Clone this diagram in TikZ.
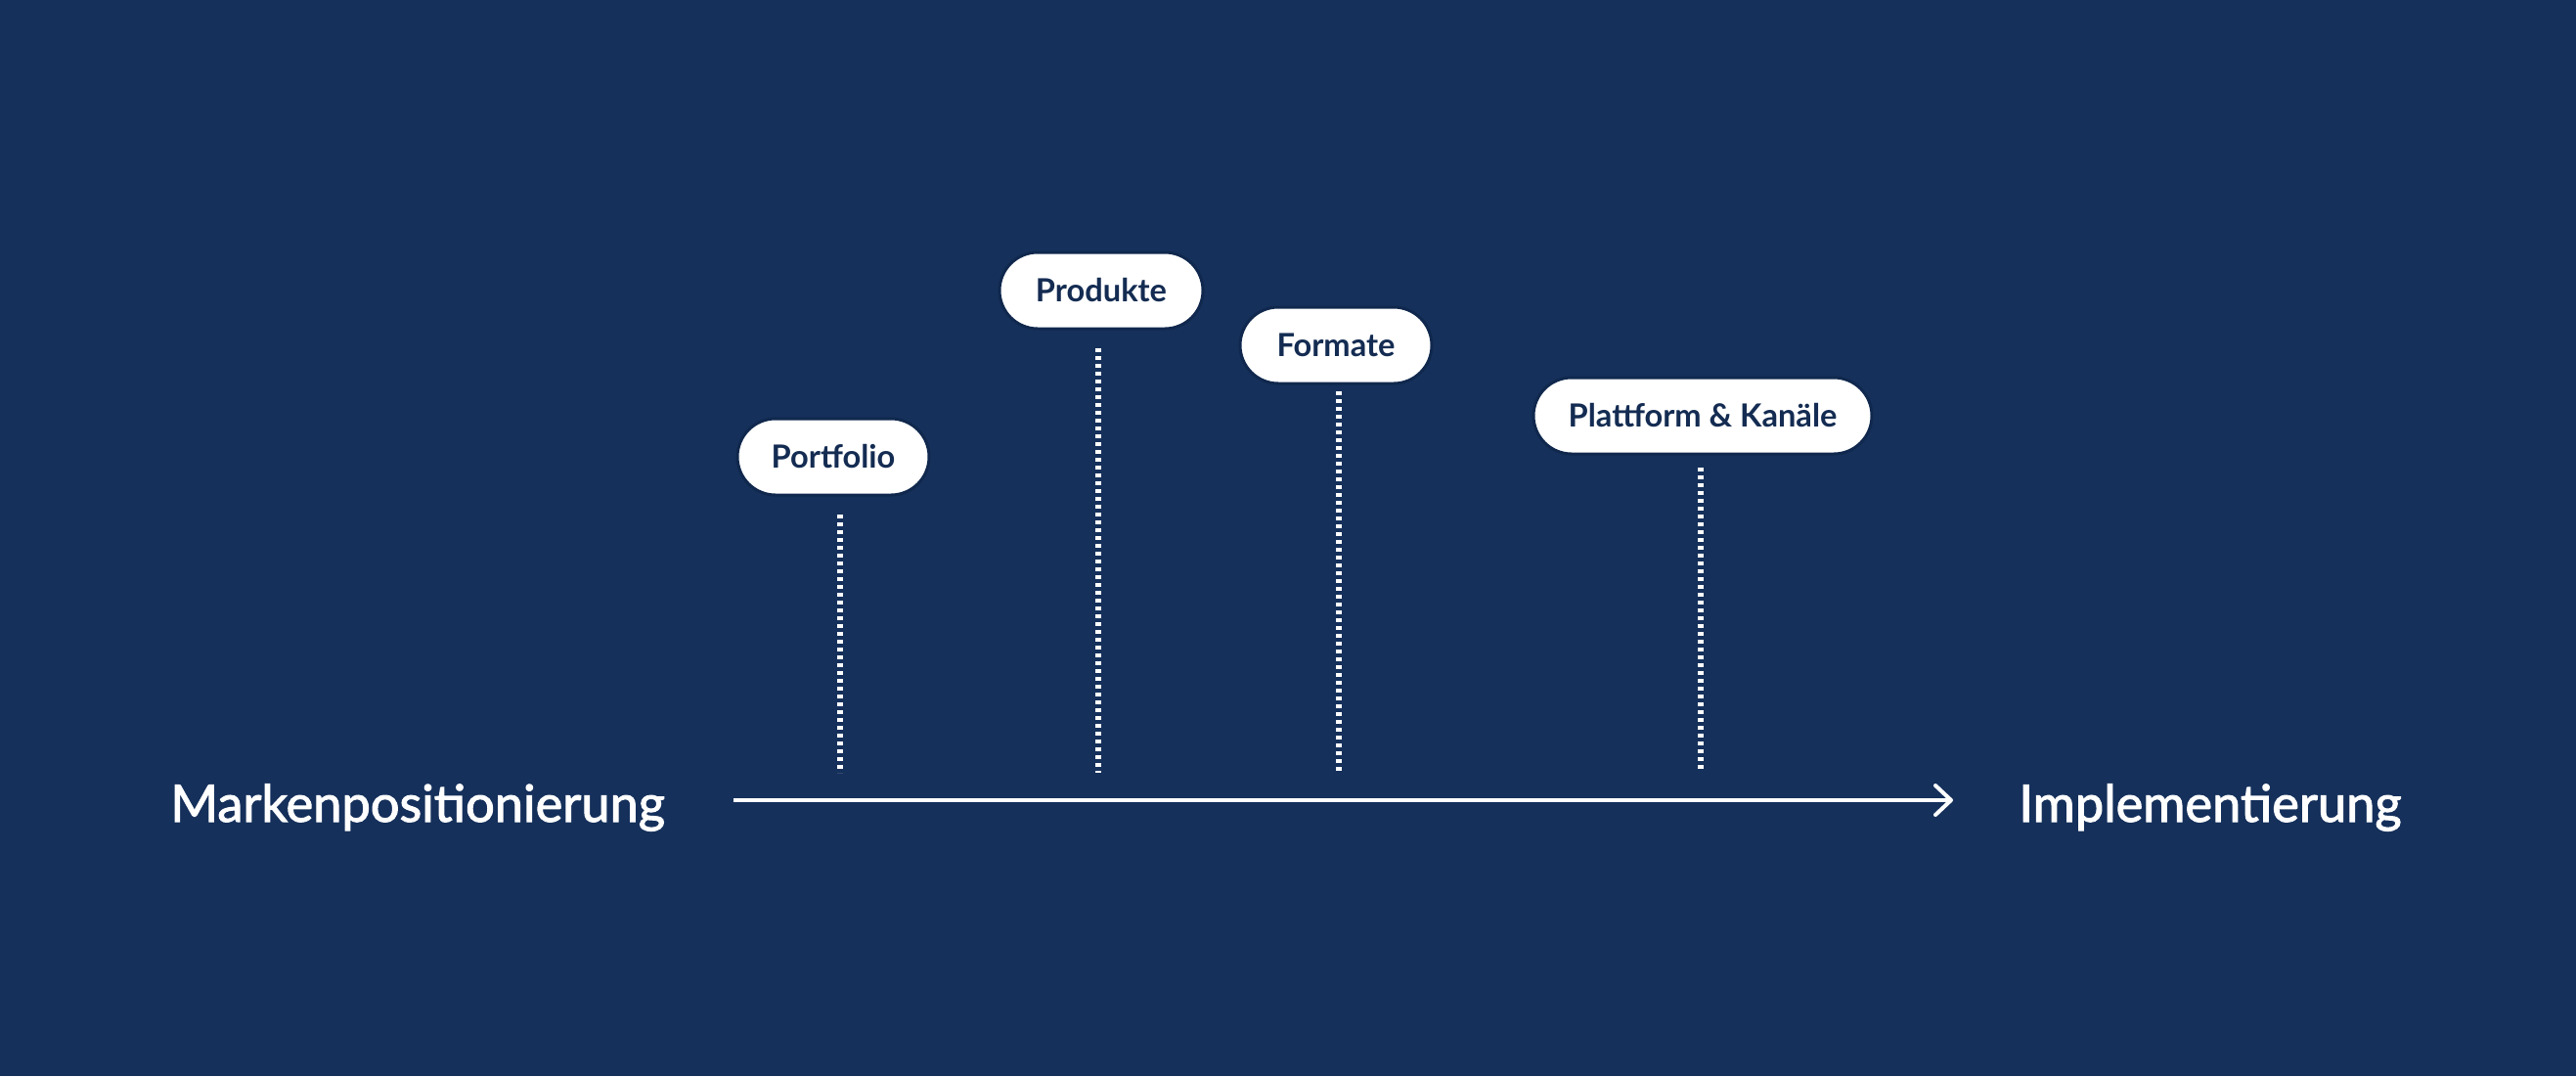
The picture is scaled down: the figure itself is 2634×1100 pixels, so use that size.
\documentclass[tikz,border=0pt]{standalone}
\usepackage{fontspec}
\setmainfont{Lato}
\newfontfamily\labelfont[FakeBold=2]{Lato}
\usetikzlibrary{arrows.meta}
\definecolor{bgnavy}{HTML}{15305B}
\definecolor{pilltext}{HTML}{142C52}
\definecolor{pillring}{HTML}{10284D}
\tikzset{
  pill/.style={draw=pillring, line width=1.5pt, fill=white, rounded corners=19.5pt,
    minimum height=39pt, inner xsep=0pt, inner ysep=0pt, text height=11.5pt, text depth=0pt,
    font=\fontsize{16.3pt}{18pt}\selectfont\bfseries, text=pilltext, anchor=center},
  axislabel/.style={inner sep=0pt, anchor=base west, text=white,
    font=\labelfont\fontsize{26.2pt}{29pt}\selectfont},
  dotline/.style={draw=white, line width=3pt, dash pattern=on 2pt off 2pt},
  timeline/.style={draw=white, line width=2pt,
    -{Straight Barb[length=8pt, width=15pt, line width=2pt, line cap=round, line join=round]}}
}
\begin{document}
\begin{tikzpicture}[x=0.5pt, y=-0.5pt]
  \fill[bgnavy] (0,0) rectangle (2634,1100);
  \useasboundingbox (0,0) rectangle (2634,1100);

  % pills
  \node[pill, minimum width=98pt] (portfolio) at (852,467) {Portfolio};
  \node[pill, minimum width=104pt] (produkte) at (1126,297) {Produkte};
  \node[pill, minimum width=98pt] (formate) at (1366,353) {Formate};
  \node[pill, minimum width=173pt] (plattform) at (1741,425) {Plattform \& Kanäle};

  % dotted stems
  \coordinate (portfolioTop) at (859,526);
  \coordinate (portfolioBot) at (859,790);
  \coordinate (produkteTop) at (1123,356);
  \coordinate (produkteBot) at (1123,790);
  \coordinate (formateTop) at (1369,400);
  \coordinate (formateBot) at (1369,790);
  \coordinate (plattformTop) at (1739,478);
  \coordinate (plattformBot) at (1739,789);
  \draw[dotline] (portfolioTop) -- (portfolioBot);
  \draw[dotline] (produkteTop) -- (produkteBot);
  \draw[dotline] (formateTop) -- (formateBot);
  \draw[dotline] (plattformTop) -- (plattformBot);

  % axis
  \coordinate (axisStart) at (750,818);
  \coordinate (axisEnd) at (1997,818);
  \draw[timeline] (axisStart) -- (axisEnd);

  \node[axislabel] (marken) at (174,840) {Markenpositionierung};
  \node[axislabel] (impl) at (2064,840) {Implementierung};
\end{tikzpicture}
\end{document}
